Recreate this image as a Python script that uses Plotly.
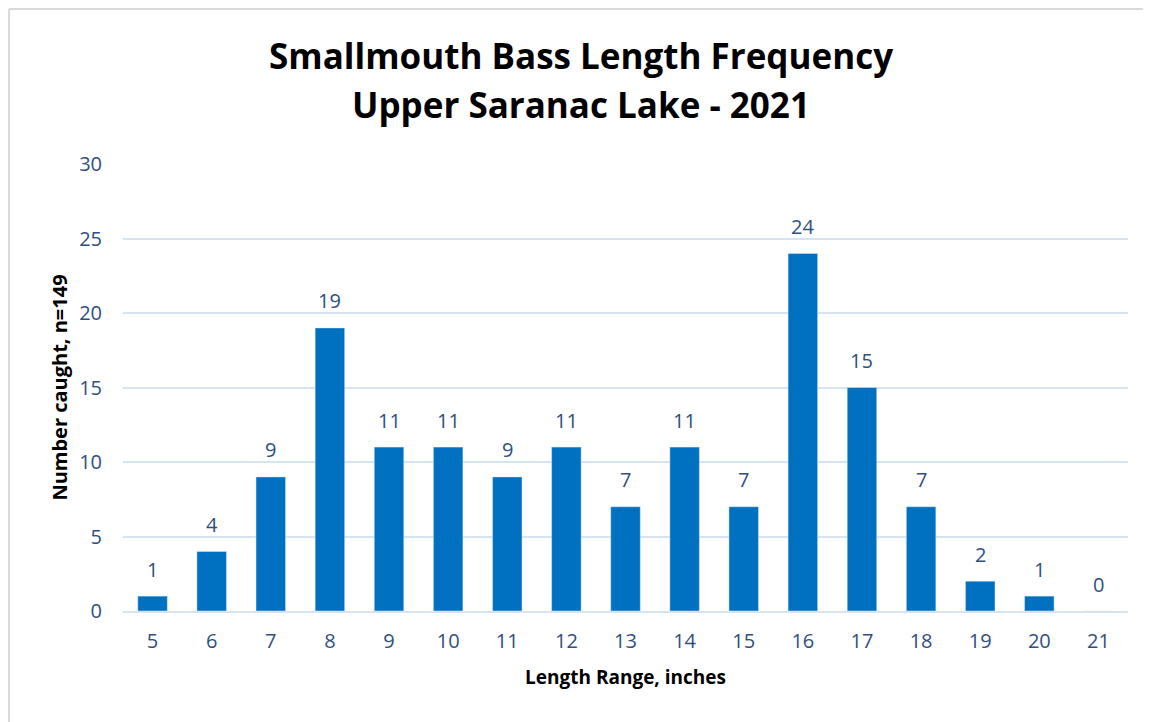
import plotly.graph_objects as go

# Datos
lengths = ["5", "6", "7", "8", "9", "10", "11", "12", "13", "14", "15", "16", "17", "18", "19", "20", "21"]
counts = [1, 4, 9, 19, 11, 11, 9, 11, 7, 11, 7, 24, 15, 7, 2, 1, 0]

title_lines = ["Smallmouth Bass Length Frequency", "Upper Saranac Lake - 2021"]
x_title = "Length Range, inches"
y_title = "Number caught, n=149"

font_name = "Open Sans"
tick_color = "#2F4F7F"
bar_color = "#0070C0"
grid_color = "#D6E3F3"

fig = go.Figure()

fig.add_trace(
    go.Bar(
        x=lengths,
        y=counts,
        marker=dict(color=bar_color),
        width=0.5,
        showlegend=False,
    )
)

# Etiquetas de datos encima de cada barra (x = indice de la categoria)
for i, val in enumerate(counts):
    fig.add_annotation(
        x=i,
        y=val,
        text=str(val),
        showarrow=False,
        yanchor="middle",
        yshift=27,
        font=dict(family=font_name, size=20, color=tick_color),
    )

# Titulo en dos lineas
for i, line in enumerate(title_lines):
    fig.add_annotation(
        x=0.4557,
        y=[1.2438, 1.132][i],
        xref="paper",
        yref="paper",
        xanchor="center",
        yanchor="middle",
        text="<b>" + line + "</b>",
        showarrow=False,
        font=dict(family=font_name, size=35, color="black"),
    )

fig.update_layout(
    width=1143,
    height=714,
    plot_bgcolor="white",
    paper_bgcolor="white",
    margin=dict(l=115, r=23, t=156, b=111),
    xaxis=dict(
        type="category",
        title=dict(text="<b>" + x_title + "</b>", font=dict(family=font_name, size=19, color="black"), standoff=18),
        tickfont=dict(family=font_name, size=20, color=tick_color),
        showgrid=False,
        showline=True,
        linecolor=grid_color,
        linewidth=2,
        ticks="",
        ticklabelstandoff=11,
    ),
    yaxis=dict(
        title=dict(text="<b>" + y_title + "</b>", font=dict(family=font_name, size=20, color="black"), standoff=6),
        tickfont=dict(family=font_name, size=20, color=tick_color),
        range=[0, 30],
        dtick=5,
        showgrid=True,
        gridcolor=grid_color,
        gridwidth=2,
        zeroline=False,
        ticks="",
        ticklabelstandoff=20,
    ),
)

# Borde gris superior e izquierdo del grafico
fig.add_shape(type="line", xref="paper", yref="paper",
              x0=-0.1134, x1=1.03, y0=1.3468, y1=1.3468,
              line=dict(color="#D9D9D9", width=2))
fig.add_shape(type="line", xref="paper", yref="paper",
              x0=-0.1134, x1=-0.1134, y0=1.3468, y1=-0.26,
              line=dict(color="#D9D9D9", width=2))

fig.write_html("out.html")
